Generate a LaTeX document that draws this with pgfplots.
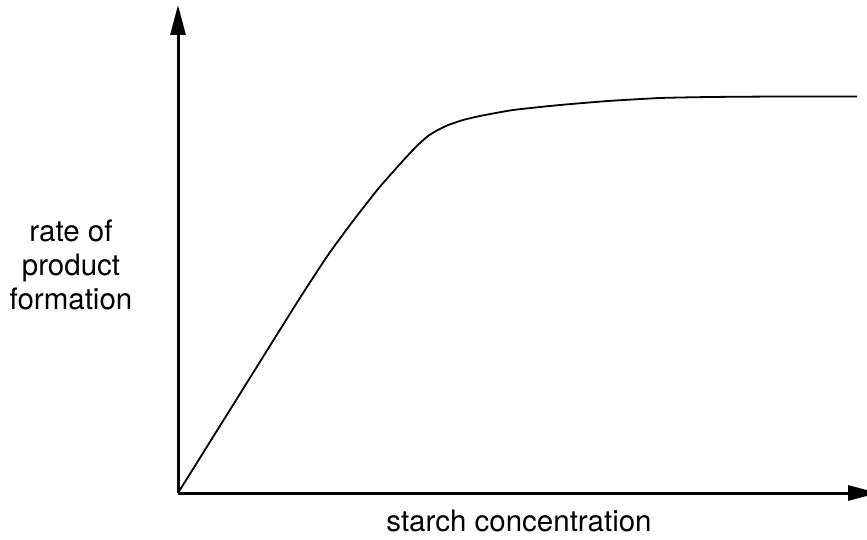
\documentclass[border=0pt]{standalone}
\usepackage{fontspec}
\setmainfont{TeX Gyre Heros}
\usepackage{pgfplots}
\pgfplotsset{compat=1.18}
\usetikzlibrary{arrows.meta}
\begin{document}
\begin{tikzpicture}[x=1pt,y=1pt]
\clip (-178,-46) rectangle (689,493);
\begin{axis}[
  at={(0,0)}, anchor=origin,
  x=1pt, y=1pt,
  xmin=0, xmax=700, ymin=0, ymax=488,
  axis lines=left,
  axis line style={line width=3pt, -{Triangle[length=30pt,width=15pt]}},
  xtick=\empty, ytick=\empty,
  clip=false,
]
\addplot[black, line width=1.8pt, smooth, tension=0.3] coordinates {
(0,0) (60,96) (120,192) (150,238) (175,272) (200,304) (222,329) (234,342) (242,350) (250,357) (258,362) (269,367.5) (285,373) (302,377) (335,383) (382,388) (430,392) (482,395) (532,396) (600,396.5) (679,396.5)
};
\end{axis}
\node[align=center, font=\fontsize{29.5}{34}\selectfont] at (-107,228) {rate of\\product\\formation};
\node[font=\fontsize{29.5}{34}\selectfont] at (341,-28) {starch concentration};
\end{tikzpicture}
\end{document}
